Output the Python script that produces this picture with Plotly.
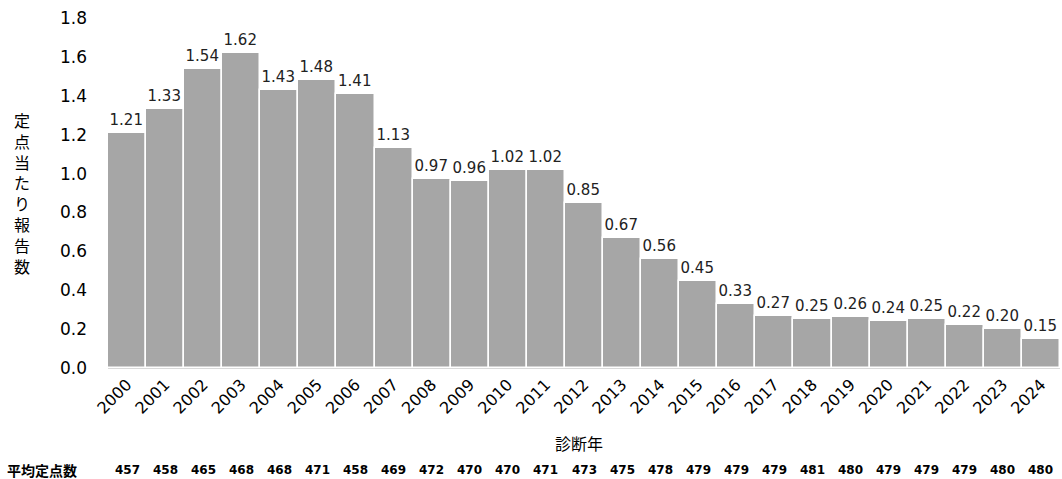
import plotly.graph_objects as go

years = [str(y) for y in range(2000, 2025)]
values = [1.21, 1.33, 1.54, 1.62, 1.43, 1.48, 1.41, 1.13, 0.97, 0.96, 1.02, 1.02, 0.85,
          0.67, 0.56, 0.45, 0.33, 0.27, 0.25, 0.26, 0.24, 0.25, 0.22, 0.20, 0.15]
sentinel_counts = [457, 458, 465, 468, 468, 471, 458, 469, 472, 470, 470, 471, 473,
                   475, 478, 479, 479, 479, 481, 480, 479, 479, 479, 480, 480]
y_ticks = [0.0, 0.2, 0.4, 0.6, 0.8, 1.0, 1.2, 1.4, 1.6, 1.8]

FONT = "DejaVu Sans"

fig = go.Figure(go.Bar(
    x=years, y=values,
    marker=dict(color="#a6a6a6", line=dict(color="#ffffff", width=1.5)),
    text=[f"{v:.2f}" for v in values],
    textposition="outside",
    textfont=dict(family=FONT, size=15, color="#222222"),
    cliponaxis=False,
))

annotations = []
for i, c in enumerate(sentinel_counts):
    annotations.append(dict(
        x=i, xref="x", y=-0.292, yref="paper", text=f"<b>{c}</b>",
        showarrow=False, font=dict(family=FONT, size=12, color="#000000"),
        xanchor="center", yanchor="middle"))
annotations.append(dict(
    x=-0.108, xref="paper", y=-0.292, yref="paper", text="<b>平均定点数</b>",
    showarrow=False, font=dict(family="Noto Sans CJK JP", size=14, color="#000000"),
    xanchor="left", yanchor="middle"))
annotations.append(dict(
    x=0.495, xref="paper", y=-0.214, yref="paper", text="診断年",
    showarrow=False, font=dict(family="Noto Sans CJK JP", size=16, color="#000000"),
    xanchor="center", yanchor="middle"))
annotations.append(dict(
    x=-0.09, xref="paper", y=0.5, yref="paper",
    text="<br>".join(list("定点当たり報告数")),
    showarrow=False, font=dict(family="Noto Sans CJK JP", size=16, color="#000000"),
    xanchor="center", yanchor="middle"))

fig.update_layout(
    width=1062, height=479,
    margin=dict(l=108, r=2, t=18, b=111),
    paper_bgcolor="white", plot_bgcolor="white",
    bargap=0,
    showlegend=False,
    xaxis=dict(
        type="category", range=[-0.5, len(years) - 0.5],
        tickangle=-45, tickfont=dict(family=FONT, size=16, color="#000000"),
        showline=True, linecolor="#d9d9d9", linewidth=1, ticks="",
        showgrid=False,
    ),
    yaxis=dict(
        range=[0, 1.8], tickvals=y_ticks, ticktext=[f"{t:.1f}" for t in y_ticks],
        tickfont=dict(family=FONT, size=17, color="#000000"),
        ticklabelstandoff=20,
        showgrid=False, zeroline=False, showline=False, ticks="",
    ),
    annotations=annotations,
)

fig.write_html("out.html")
